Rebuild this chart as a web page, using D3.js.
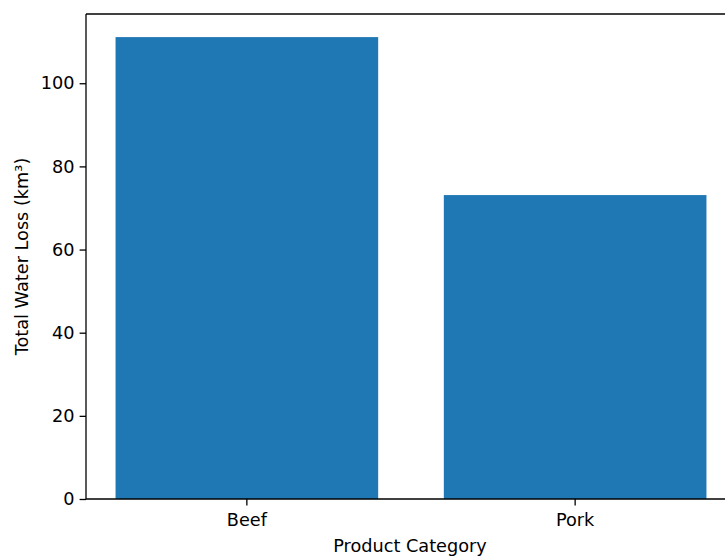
<!DOCTYPE html>
<html>
<head>
<meta charset="utf-8">
<script src="https://cdn.jsdelivr.net/npm/d3@7"></script>
<style>
  html, body { margin: 0; padding: 0; background: #fff; }
  svg { display: block; font-family: "DejaVu Sans", sans-serif; }
</style>
</head>
<body>
<svg id="chart" width="725" height="556"></svg>
<script>
const categories = ["Beef", "Pork"];
const waterLoss = [111.1, 73.1];
const yTicks = [0, 20, 40, 60, 80, 100];
const xTitle = "Product Category";
const yTitle = "Total Water Loss (km³)";

const svg = d3.select("#chart");
const plotLeft = 86, plotRight = 736, plotTop = 14, plotBottom = 499;
const fontSize = 17.7;

const x = d3.scaleBand().domain(categories).range([plotLeft, plotRight])
  .paddingInner(0.2).paddingOuter(0.09);
const yMax = d3.max(waterLoss) * 1.05;
const y = d3.scaleLinear().domain([0, yMax]).range([plotBottom, plotTop]);

// bars
svg.append("g").selectAll("rect")
  .data(categories.map((c, i) => ({ c, v: waterLoss[i] })))
  .join("rect")
  .attr("x", d => x(d.c))
  .attr("width", x.bandwidth())
  .attr("y", d => y(d.v))
  .attr("height", d => y(0) - y(d.v))
  .attr("fill", "#1f77b4");

// axes
const xAxis = d3.axisBottom(x).tickSize(6.4).tickPadding(5).tickSizeOuter(0);
const gx = svg.append("g").attr("transform", `translate(0,${plotBottom})`).call(xAxis);
const yAxis = d3.axisLeft(y).tickValues(yTicks).tickSize(6.4).tickPadding(5).tickSizeOuter(0);
const gy = svg.append("g").attr("transform", `translate(${plotLeft},0)`).call(yAxis);

[gx, gy].forEach(g => {
  g.select(".domain").remove();
  g.selectAll(".tick line").attr("stroke", "#000").attr("stroke-width", 1.3);
  g.selectAll(".tick text").attr("fill", "#000")
    .style("font-size", fontSize + "px")
    .style("font-family", "'DejaVu Sans', sans-serif");
});
gx.selectAll(".tick text").attr("dy", "0.9em");

// spines
const spines = svg.append("g").attr("stroke", "#000").attr("stroke-width", 1.3).attr("fill", "none");
spines.append("line").attr("x1", plotLeft).attr("x2", plotLeft).attr("y1", plotTop).attr("y2", plotBottom);
spines.append("line").attr("x1", plotLeft).attr("x2", plotRight).attr("y1", plotBottom).attr("y2", plotBottom);
spines.append("line").attr("x1", plotLeft).attr("x2", plotRight).attr("y1", plotTop).attr("y2", plotTop);
spines.append("line").attr("x1", plotRight).attr("x2", plotRight).attr("y1", plotTop).attr("y2", plotBottom);

// axis titles
svg.append("text")
  .attr("x", (plotLeft + plotRight) / 2 - 1)
  .attr("y", 552)
  .attr("text-anchor", "middle")
  .style("font-size", fontSize + "px")
  .text(xTitle);

svg.append("text")
  .attr("transform", `translate(28,${(plotTop + plotBottom) / 2}) rotate(-90)`)
  .attr("text-anchor", "middle")
  .style("font-size", fontSize + "px")
  .text(yTitle);
</script>
</body>
</html>
